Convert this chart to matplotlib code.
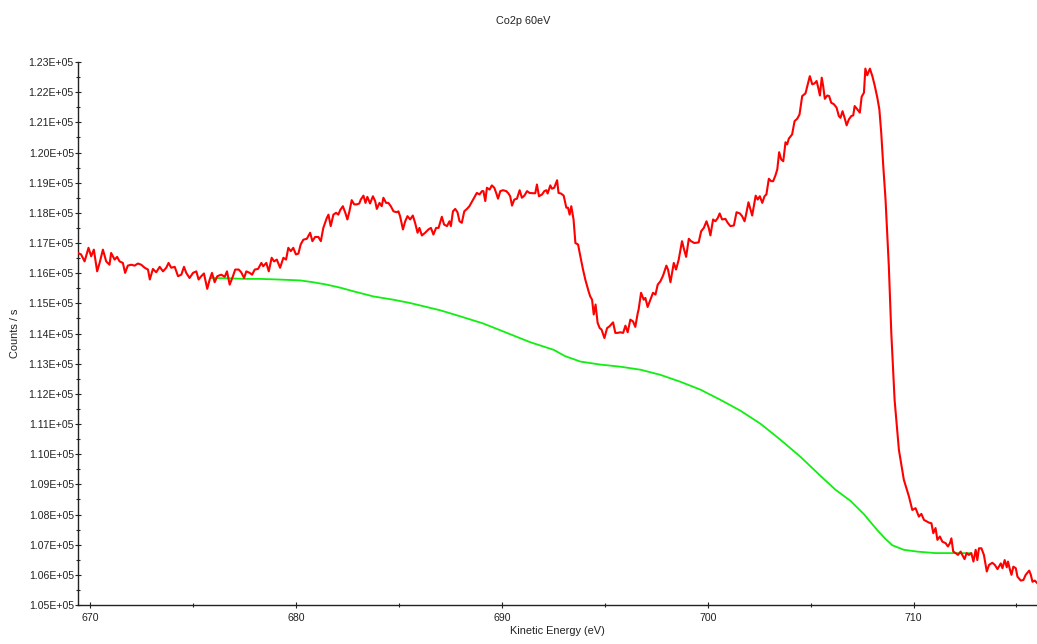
import numpy as np
import matplotlib
matplotlib.use("Agg")
import matplotlib.pyplot as plt
from matplotlib.ticker import MultipleLocator, FuncFormatter

plt.rcParams['font.family'] = ['Liberation Sans', 'DejaVu Sans']

# measured spectrum (red), kinetic energy in eV and counts/s
energy = [669.39, 669.55, 669.72, 669.91, 670.04, 670.17, 670.33, 670.45, 670.61, 670.77,
          670.93, 671.01, 671.18, 671.30, 671.42, 671.58, 671.69, 671.82, 671.98, 672.15,
          672.31, 672.47, 672.64, 672.80, 672.89, 673.04, 673.20, 673.37, 673.53, 673.69,
          673.80, 673.93, 674.10, 674.26, 674.42, 674.55, 674.66, 674.82, 674.99, 675.15,
          675.26, 675.39, 675.52, 675.68, 675.80, 675.91, 676.04, 676.17, 676.36, 676.53,
          676.64, 676.77, 676.93, 677.04, 677.21, 677.33, 677.47, 677.58, 677.74, 677.86,
          677.99, 678.15, 678.31, 678.40, 678.55, 678.67, 678.81, 678.93, 679.06, 679.22,
          679.38, 679.51, 679.62, 679.74, 679.86, 679.99, 680.11, 680.22, 680.35, 680.52,
          680.68, 680.79, 680.92, 681.08, 681.20, 681.32, 681.49, 681.57, 681.68, 681.81,
          681.94, 682.05, 682.14, 682.27, 682.39, 682.49, 682.59, 682.70, 682.82, 682.95,
          683.07, 683.14, 683.27, 683.37, 683.46, 683.59, 683.73, 683.84, 683.92, 684.05,
          684.16, 684.24, 684.37, 684.48, 684.60, 684.73, 684.89, 684.97, 685.05, 685.19,
          685.30, 685.41, 685.54, 685.67, 685.78, 685.90, 685.99, 686.11, 686.27, 686.43,
          686.55, 686.67, 686.80, 686.92, 687.08, 687.19, 687.33, 687.45, 687.52, 687.62,
          687.73, 687.84, 687.94, 688.05, 688.17, 688.30, 688.42, 688.56, 688.65, 688.78,
          688.91, 689.03, 689.10, 689.19, 689.27, 689.40, 689.51, 689.63, 689.72, 689.81,
          689.92, 690.05, 690.21, 690.32, 690.40, 690.49, 690.60, 690.73, 690.86, 690.97,
          691.09, 691.22, 691.34, 691.51, 691.62, 691.70, 691.80, 691.95, 692.06, 692.16,
          692.22, 692.35, 692.43, 692.54, 692.68, 692.75, 692.87, 693.00, 693.13, 693.21,
          693.29, 693.37, 693.48, 693.57, 693.70, 693.81, 693.94, 694.05, 694.21, 694.29,
          694.38, 694.46, 694.55, 694.65, 694.75, 694.84, 694.98, 695.11, 695.23, 695.40,
          695.51, 695.62, 695.75, 695.89, 696.00, 696.11, 696.24, 696.37, 696.48, 696.60,
          696.64, 696.76, 696.89, 696.97, 697.08, 697.21, 697.34, 697.46, 697.57, 697.70,
          697.83, 697.99, 698.07, 698.19, 698.35, 698.46, 698.59, 698.75, 698.83, 698.95,
          699.08, 699.19, 699.35, 699.56, 699.68, 699.81, 699.94, 700.05, 700.13, 700.26,
          700.37, 700.49, 700.58, 700.70, 700.86, 700.97, 701.10, 701.27, 701.40, 701.56,
          701.67, 701.79, 701.88, 701.98, 702.08, 702.16, 702.24, 702.33, 702.43, 702.53,
          702.65, 702.76, 702.85, 702.97, 703.08, 703.18, 703.29, 703.38, 703.47, 703.57,
          703.67, 703.78, 703.86, 703.94, 704.10, 704.22, 704.35, 704.46, 704.59, 704.75,
          704.86, 704.96, 705.08, 705.19, 705.29, 705.37, 705.45, 705.54, 705.61, 705.69,
          705.81, 705.90, 706.00, 706.13, 706.26, 706.37, 706.45, 706.55, 706.65, 706.75,
          706.86, 706.98, 707.07, 707.14, 707.27, 707.39, 707.48, 707.59, 707.66, 707.75,
          707.88, 708.00, 708.11, 708.24, 708.34, 708.43, 708.53, 708.64, 708.80, 708.92,
          709.08, 709.29, 709.53, 709.78, 709.94, 710.10, 710.26, 710.38, 710.51, 710.75,
          710.87, 710.96, 711.07, 711.16, 711.28, 711.40, 711.56, 711.67, 711.77, 711.84,
          711.93, 712.05, 712.16, 712.29, 712.37, 712.48, 712.58, 712.69, 712.81, 712.91,
          713.02, 713.10, 713.18, 713.30, 713.42, 713.56, 713.67, 713.83, 713.95, 714.08,
          714.24, 714.32, 714.43, 714.53, 714.59, 714.69, 714.76, 714.85, 714.97, 715.05,
          715.21, 715.34, 715.45, 715.62, 715.70, 715.78, 715.89, 716.02]
counts = [116670, 116620, 116390, 116840, 116560, 116780, 116060, 116340, 116780, 116390,
          116280, 116670, 116450, 116540, 116390, 116340, 116010, 116250, 116280, 116250,
          116320, 116280, 116180, 116120, 115790, 116140, 116030, 116210, 116060, 116180,
          116340, 116180, 116210, 115900, 115950, 116210, 116010, 115840, 116010, 116060,
          115790, 115900, 115990, 115480, 115790, 116010, 115700, 115900, 115950, 115880,
          116060, 115620, 115900, 116120, 116120, 116030, 115840, 116060, 116010, 115950,
          116120, 116140, 116340, 116230, 116340, 116060, 116510, 116390, 116450, 116180,
          116510, 116450, 116840, 116730, 116840, 116620, 116650, 116950, 117110, 117140,
          117340, 117060, 117200, 117200, 117060, 117500, 117830, 117940, 117560, 117940,
          118000, 117940, 118090, 118220, 118000, 117780, 118050, 118420, 118280, 118280,
          118310, 118440, 118570, 118330, 118530, 118310, 118550, 118390, 118130, 118330,
          118220, 118500, 118330, 118330, 118220, 118050, 118020, 118050, 117890, 117450,
          117720, 117890, 117780, 117910, 117670, 117340, 117500, 117250, 117340, 117450,
          117500, 117280, 117500, 117500, 117870, 117610, 117560, 117720, 117560, 118050,
          118130, 118020, 117720, 117670, 118050, 118130, 118220, 118390, 118500, 118660,
          118610, 118720, 118720, 118390, 118830, 118770, 118910, 118830, 118660, 118470,
          118720, 118750, 118720, 118640, 118550, 118240, 118440, 118470, 118750, 118500,
          118570, 118720, 118660, 118650, 118650, 118940, 118550, 118610, 118720, 118750,
          118640, 118910, 118800, 118830, 119080, 118660, 118640, 118570, 118170, 118170,
          117940, 118220, 117780, 117000, 116950, 116560, 116120, 115790, 115400, 115230,
          115120, 114630, 114960, 114350, 114180, 114130, 113850, 114180, 114240, 114370,
          114020, 114020, 114040, 114020, 114260, 114040, 114460, 114400, 114220, 114680,
          114790, 115350, 115120, 115180, 114880, 115120, 115350, 115290, 115620, 115730,
          115920, 116250, 116120, 115700, 116340, 116120, 116450, 117060, 116840, 116540,
          117140, 117060, 117000, 117020, 117390, 117500, 117720, 117500, 117250, 117780,
          117720, 117830, 117980, 117780, 117800, 117670, 117560, 117580, 118020, 117980,
          117890, 117720, 118000, 118350, 118110, 117910, 118220, 118570, 118440, 118550,
          118330, 118550, 118610, 119130, 119050, 119050, 119240, 119440, 120010, 119770,
          119710, 120340, 120270, 120460, 120600, 121040, 121120, 121260, 121870, 121960,
          122260, 122530, 122260, 122290, 122370, 122150, 121890, 122480, 122200, 121780,
          121890, 121870, 121650, 121600, 121490, 121210, 121150, 121370, 121150, 120900,
          121100, 121210, 121230, 121540, 121430, 121320, 121850, 121980, 122780, 122560,
          122780, 122530, 122230, 121820, 121430, 120660, 119550, 118440, 116230, 114020,
          111800, 110140, 109150, 108590, 108150, 108210, 107930, 108020, 107820, 107730,
          107710, 107380, 107550, 107160, 107270, 107100, 107050, 106940, 107050, 107210,
          106770, 106720, 106660, 106770, 106660, 106520, 106720, 106660, 106720, 106440,
          106830, 106490, 106880, 106880, 106660, 106110, 106330, 106400, 106330, 106190,
          106380, 106220, 106490, 106250, 106440, 106160, 106000, 106270, 106220, 105940,
          105810, 105830, 106000, 106140, 106000, 105770, 105810, 105720]

# background (green)
bg_energy = [675.88, 676.69, 677.50, 678.24, 679.12, 680.19, 680.82, 681.49, 682.14, 682.78,
             683.75, 684.73, 685.54, 686.27, 687.00, 687.97, 689.10, 690.24, 691.38, 692.51,
             693.07, 693.81, 694.78, 695.75, 696.73, 697.70, 698.67, 699.64, 700.62, 701.59,
             702.56, 703.53, 704.51, 705.48, 706.21, 706.94, 707.59, 708.24, 708.64, 708.97,
             709.53, 710.18, 711.07, 712.12, 712.76]
bg_counts = [115840, 115830, 115810, 115810, 115790, 115760, 115700, 115620, 115520, 115400,
             115230, 115120, 115010, 114890, 114770, 114570, 114330, 114020, 113710, 113460,
             113250, 113070, 112970, 112900, 112800, 112630, 112400, 112140, 111800, 111440,
             111010, 110480, 109910, 109280, 108820, 108450, 108010, 107480, 107190, 106980,
             106830, 106770, 106720, 106720, 106720]

fig = plt.figure(figsize=(10.37, 6.44), dpi=100)
ax = fig.add_axes([78 / 1037, 1 - 605 / 644, 1 - 78 / 1037, (605 - 62) / 644])

ax.plot(energy, counts, color='#ff0000', lw=1.5, zorder=3)
ax.plot(bg_energy, bg_counts, color='#11ee11', lw=1.3, zorder=2)

ax.set_xlim(669.4, 716.0)
ax.set_ylim(105000, 123000)

ax.xaxis.set_major_locator(MultipleLocator(10))
ax.xaxis.set_minor_locator(MultipleLocator(5))
ax.yaxis.set_major_locator(MultipleLocator(1000))
ax.yaxis.set_minor_locator(MultipleLocator(500))
ax.yaxis.set_major_formatter(FuncFormatter(lambda v, p: f"{v / 1e5:.2f}E+05"))
ax.xaxis.set_major_formatter(FuncFormatter(lambda v, p: f"{v:.0f}"))

for s in ['top', 'right']:
    ax.spines[s].set_visible(False)
for s in ['left', 'bottom']:
    ax.spines[s].set_linewidth(1.0)
    ax.spines[s].set_color('#222222')

ax.tick_params(which='major', direction='inout', length=4, width=0.8,
               labelsize=7.6, colors='#222222', pad=2)
ax.tick_params(which='minor', direction='inout', length=3, width=0.8, colors='#222222')
ax.tick_params(axis='y', pad=1)
ax.tick_params(axis='x', pad=4)

ax.set_xlabel('Kinetic Energy (eV)', fontsize=7.9, color='#222222', labelpad=2)
ax.set_ylabel('Counts / s', fontsize=7.9, color='#222222', labelpad=6)
fig.text(0.505, 0.968, 'Co2p 60eV', ha='center', va='center', fontsize=7.8, color='#222222')

fig.savefig('out.png', dpi=100)
